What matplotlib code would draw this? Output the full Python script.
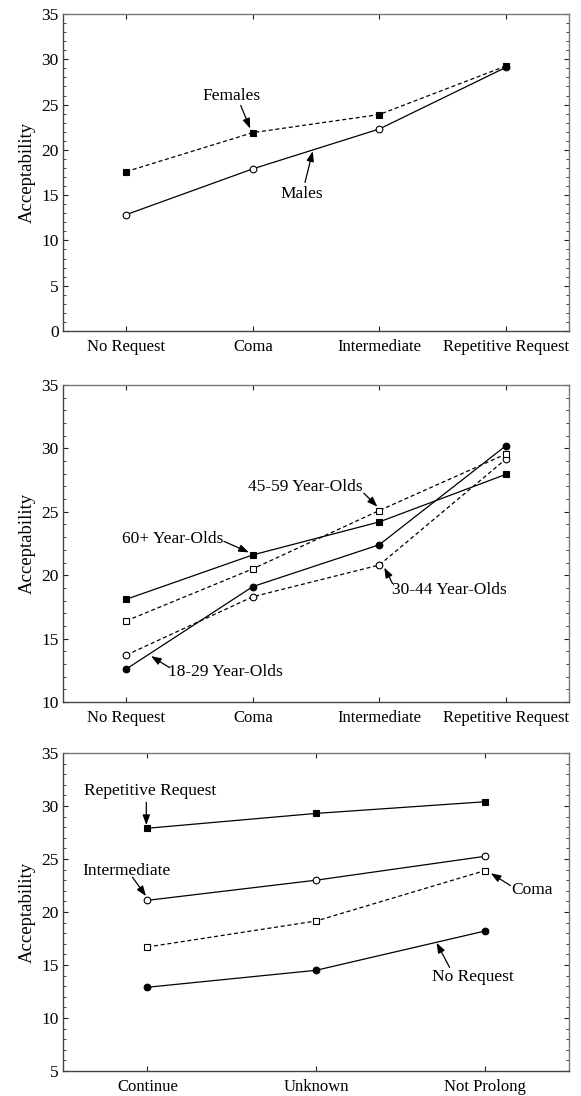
import matplotlib
matplotlib.use("Agg")
import matplotlib.pyplot as plt
from matplotlib.ticker import MultipleLocator, FixedLocator

plt.rcParams['font.family'] = ['Liberation Serif', 'DejaVu Serif']

# ---------------- data ----------------
request_cats = ["No Request", "Coma", "Intermediate", "Repetitive Request"]
females = [17.6, 21.9, 23.9, 29.25]
males = [12.85, 17.9, 22.3, 29.1]

age_60 = [18.1, 21.6, 24.2, 27.95]
age_45 = [16.4, 20.5, 25.1, 29.55]
age_30 = [13.7, 18.3, 20.8, 29.15]
age_18 = [12.6, 19.1, 22.4, 30.2]

prolong_cats = ["Continue", "Unknown", "Not Prolong"]
rep_request = [27.9, 29.3, 30.4]
intermediate = [21.1, 23.0, 25.25]
coma = [16.7, 19.15, 23.9]
no_request = [12.9, 14.5, 18.2]

W, H = 581, 1096
fig = plt.figure(figsize=(W / 100, H / 100), dpi=100)

def ax_at(top, bottom, left=63, right=569):
    return fig.add_axes([left / W, 1 - bottom / H, (right - left) / W, (bottom - top) / H])

def style(ax, ymin, ymax, ncat, cats):
    ax.set_xlim(-0.5, ncat - 0.5)
    ax.set_ylim(ymin, ymax)
    ax.xaxis.set_major_locator(FixedLocator(range(ncat)))
    ax.set_xticklabels(cats)
    ax.yaxis.set_major_locator(MultipleLocator(5))
    ax.yaxis.set_minor_locator(MultipleLocator(1))
    ax.tick_params(axis='both', which='major', direction='in', top=True, right=True,
                   length=3.5, width=0.8, labelsize=12.5, color='#222222', pad=5)
    ax.tick_params(axis='y', which='minor', direction='in', left=True, right=True,
                   length=2, width=0.6, color='#222222')
    ax.tick_params(axis='y', which='major', pad=3)
    ax.tick_params(axis='x', which='major', pad=6, labelsize=12)
    for s in ['top', 'right']:
        ax.spines[s].set_color('#777777')
        ax.spines[s].set_linewidth(1.0)
    for s in ['left', 'bottom']:
        ax.spines[s].set_color('#444444')
        ax.spines[s].set_linewidth(1.0)
    ax.set_ylabel("Acceptability", fontsize=13.5, labelpad=4)

lw = 0.9
ms = 4.8
dash = (0, (3.2, 2.2))

def series(ax, y, marker, filled, ls, z=3):
    x = list(range(len(y)))
    ax.plot(x, y, color='black', lw=lw, linestyle=ls, marker=marker, ms=ms,
            mfc='black' if filled else 'white', mec='black', mew=0.8, zorder=z)

def note(ax, text, tx, ty, x0, y0, x1, y1):
    ax.text(tx, ty, text, fontsize=12.5, ha='center', va='center', zorder=5)
    ax.annotate('', xy=(x1, y1), xytext=(x0, y0),
                arrowprops=dict(arrowstyle='-|>,head_length=0.6,head_width=0.22',
                                color='black', lw=0.9, shrinkA=0, shrinkB=0), zorder=5)

# ---------------- panel 1 ----------------
ax1 = ax_at(14, 331)
style(ax1, 0, 35, 4, request_cats)
series(ax1, males, 'o', False, '-', z=3)
series(ax1, females, 's', True, dash, z=4)
note(ax1, "Females", 0.836, 25.9, 0.905, 24.9, 0.98, 22.35)
note(ax1, "Males", 1.385, 15.1, 1.413, 16.4, 1.474, 19.85)

# ---------------- panel 2 ----------------
ax2 = ax_at(385, 702)
style(ax2, 10, 35, 4, request_cats)
series(ax2, age_30, 'o', False, dash, z=3)
series(ax2, age_45, 's', False, dash, z=3)
series(ax2, age_60, 's', True, '-', z=4)
series(ax2, age_18, 'o', True, '-', z=4)
note(ax2, "45-59 Year-Olds", 1.413, 26.95, 1.878, 26.47, 1.985, 25.4)
note(ax2, "60+ Year-Olds", 0.365, 22.85, 0.772, 22.67, 0.97, 21.8)
note(ax2, "30-44 Year-Olds", 2.556, 18.87, 2.105, 19.34, 2.04, 20.6)
note(ax2, "18-29 Year-Olds", 0.786, 12.36, 0.344, 12.7, 0.196, 13.62)

# ---------------- panel 3 ----------------
ax3 = ax_at(753, 1071)
style(ax3, 5, 35, 3, prolong_cats)
series(ax3, rep_request, 's', True, '-')
series(ax3, intermediate, 'o', False, '-')
series(ax3, coma, 's', False, dash)
series(ax3, no_request, 'o', True, '-')
note(ax3, "Repetitive Request", 0.016, 31.38, -0.006, 30.34, -0.006, 28.2)
note(ax3, "Intermediate", -0.126, 23.9, -0.088, 23.28, -0.008, 21.5)
note(ax3, "Coma", 2.279, 22.08, 2.153, 22.49, 2.036, 23.66)
note(ax3, "No Request", 1.931, 13.89, 1.792, 14.77, 1.715, 17.1)

fig.savefig("out.png", dpi=100)
